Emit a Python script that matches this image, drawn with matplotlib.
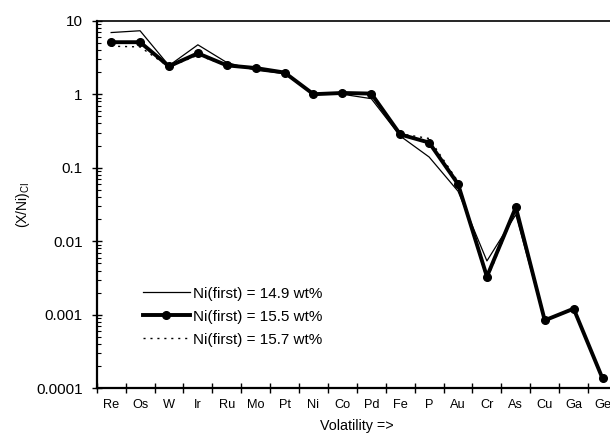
import matplotlib
matplotlib.use("Agg")
import matplotlib.pyplot as plt
from matplotlib.ticker import LogLocator, NullFormatter, FixedLocator
import numpy as np

plt.rcParams['font.family'] = ['Liberation Sans', 'DejaVu Sans']
plt.rcParams['mathtext.fontset'] = 'custom'
plt.rcParams['mathtext.rm'] = 'Liberation Sans'

elements = ["Re", "Os", "W", "Ir", "Ru", "Mo", "Pt", "Ni", "Co", "Pd",
            "Fe", "P", "Au", "Cr", "As", "Cu", "Ga", "Ge"]
ni_149 = [6.9, 7.3, 2.45, 4.7, 2.7, 2.12, 1.9, 1.0, 1.0, 0.87,
          0.27, 0.14, 0.048, 0.0054, 0.023, 0.00085, 0.0012, 0.00013]
ni_155 = [5.1, 5.1, 2.4, 3.6, 2.47, 2.27, 1.97, 1.0, 1.04, 1.02,
          0.284, 0.22, 0.060, 0.0033, 0.029, 0.00084, 0.00121, 0.000136]
ni_157 = [4.5, 4.4, 2.35, 3.4, 2.45, 2.3, 1.95, 1.0, 1.03, 1.0,
          0.29, 0.25, 0.065, 0.0030, 0.028, 0.00085, 0.00118, 0.00014]
labels = ["Ni(first) = 14.9 wt%", "Ni(first) = 15.5 wt%", "Ni(first) = 15.7 wt%"]
ytick_vals = [1e-4, 1e-3, 1e-2, 1e-1, 1, 10]
ytick_labels = ["0.0001", "0.001", "0.01", "0.1", "1", "10"]

W, H = 610, 433
fig = plt.figure(figsize=(W/100, H/100), dpi=100)
x0, x1 = 96.7, 617.0
y0, y1 = 20.7, 388.3
ax = fig.add_axes([x0/W, 1 - y1/H, (x1-x0)/W, (y1-y0)/H])

x = np.arange(len(elements))
ax.plot(x, ni_149, color='black', lw=0.9, label=labels[0], zorder=3)
ax.plot(x, ni_155, color='black', lw=2.8, marker='o', ms=5.5, label=labels[1], zorder=4)
ax.plot(x, ni_157, color='black', lw=1.0, ls=(0, (1.5, 3.5)), label=labels[2], zorder=3)

ax.set_yscale('log')
ax.set_ylim(1e-4, 10)
ax.set_xlim(-0.5, len(elements) - 0.5)

ax.yaxis.set_major_locator(FixedLocator(ytick_vals))
ax.set_yticklabels(ytick_labels)
ax.yaxis.set_minor_locator(LogLocator(base=10, subs=np.arange(2, 10), numticks=20))
ax.yaxis.set_minor_formatter(NullFormatter())
ax.tick_params(axis='y', which='major', direction='inout', length=7, width=1, labelsize=11, pad=6.5)
ax.tick_params(axis='y', which='minor', direction='in', length=3, width=0.8)

ax.set_xticks(x)
ax.set_xticklabels(elements)
ax.xaxis.set_minor_locator(FixedLocator(np.arange(len(elements) + 1) - 0.5))
ax.tick_params(axis='x', which='major', length=0, labelsize=9.2, pad=8)
ax.tick_params(axis='x', which='minor', direction='inout', length=7, width=1)

for s in ['left', 'bottom']:
    ax.spines[s].set_linewidth(1.6)
ax.spines['top'].set_linewidth(1.2)
ax.spines['right'].set_visible(False)

ax.set_xlabel("Volatility =>", fontsize=10.3)
ax.xaxis.set_label_coords(0.5, -0.083)
ax.set_ylabel(r"(X/Ni)$_{\mathrm{CI}}$", fontsize=10)
ax.yaxis.set_label_coords(-0.124, 0.5)

ax.legend(loc='upper left', bbox_to_anchor=((142.7 - x0)/(x1 - x0), (y1 - 286.5)/(y1 - y0)),
          frameon=False, fontsize=11, handlelength=3.1, handletextpad=0.18,
          labelspacing=0.6, borderpad=0, borderaxespad=0)

fig.savefig("out.png", dpi=100)
